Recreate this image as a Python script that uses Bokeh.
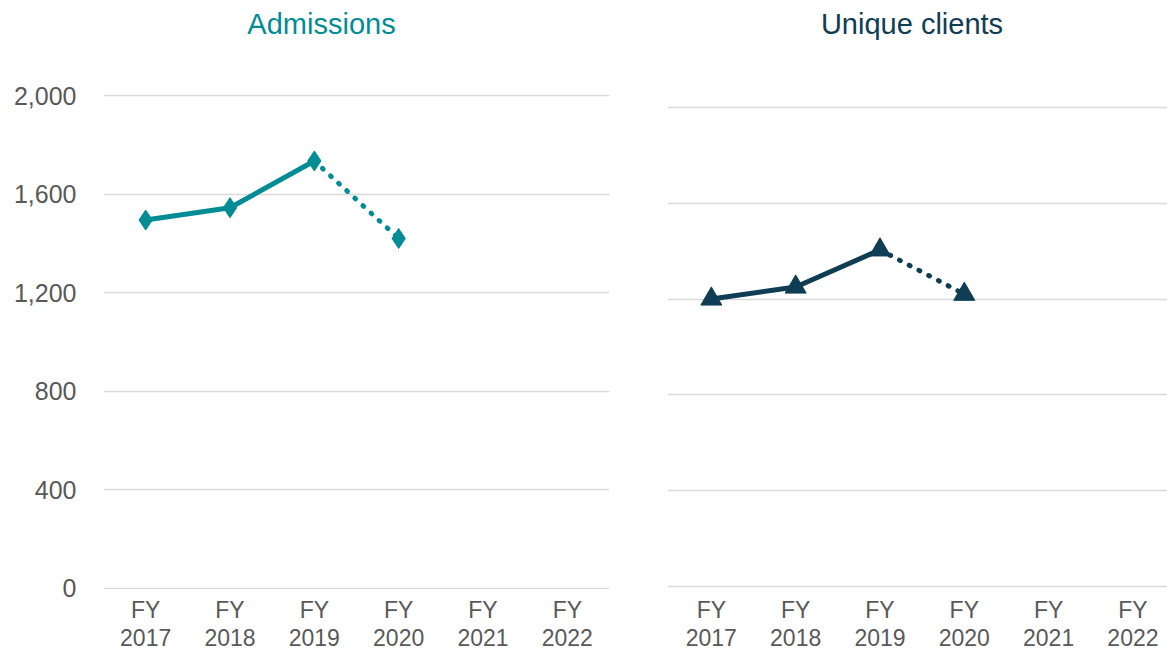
from bokeh.plotting import figure
from bokeh.layouts import row
from bokeh.models import FixedTicker, Range1d, NumeralTickFormatter, Label
from bokeh.embed import file_html
from bokeh.resources import INLINE

# ---- data ----
years = ["2017", "2018", "2019", "2020", "2021", "2022"]
tick_labels = ["FY\n" + y for y in years]
admissions = [1495, 1545, 1735, 1420]
unique_clients = [1200, 1250, 1405, 1220]
y_ticks = [0, 400, 800, 1200, 1600, 2000]

TEAL = "#008C95"
NAVY = "#0F3D53"
FONT = "Liberation Sans"
GREY = "#595959"
GRID = "#D9D9D9"

xs = list(range(len(years)))

H = 654
BOTTOM = 64
FRAME_H = H - BOTTOM  # frame runs to the top edge; title sits inside it


def base_fig(title, color, width, x_range, y_range, left, right, title_x):
    p = figure(width=width, height=H, output_backend="svg", toolbar_location=None,
               x_range=x_range, y_range=y_range,
               min_border_left=left, min_border_right=right,
               min_border_top=0, min_border_bottom=BOTTOM)
    p.outline_line_color = None
    p.background_fill_color = "white"
    p.border_fill_color = "white"
    # chart title
    p.add_layout(Label(x=title_x, y=FRAME_H - 24, x_units="screen", y_units="screen",
                       text=title, text_color=color, text_font=FONT, text_font_size="29px",
                       text_align="center", text_baseline="middle"))
    p.xgrid.visible = False
    p.ygrid.ticker = FixedTicker(ticks=y_ticks)
    p.ygrid.grid_line_color = GRID
    p.ygrid.grid_line_width = 1.5
    p.xaxis.ticker = FixedTicker(ticks=xs)
    p.xaxis.major_label_overrides = {i: lab for i, lab in enumerate(tick_labels)}
    p.xaxis.axis_line_color = None
    p.xaxis.major_tick_line_color = None
    p.xaxis.minor_tick_line_color = None
    p.xaxis.major_label_text_font = FONT
    p.xaxis.major_label_text_font_size = "23px"
    p.xaxis.major_label_text_color = GREY
    p.xaxis.major_label_text_line_height = 1.1
    p.xaxis.major_label_standoff = 1
    return p


# ---- left: Admissions ----
p1 = base_fig("Admissions", TEAL, 640, Range1d(-0.5, 5.5), Range1d(-6, 2387), 103, 31, 218)
p1.yaxis.ticker = FixedTicker(ticks=y_ticks)
p1.yaxis.formatter = NumeralTickFormatter(format="0,0")
p1.yaxis.axis_line_color = None
p1.yaxis.major_tick_line_color = None
p1.yaxis.minor_tick_line_color = None
p1.yaxis.major_label_text_font = FONT
p1.yaxis.major_label_text_font_size = "25px"
p1.yaxis.major_label_text_color = GREY
p1.yaxis.major_label_standoff = 21

n1 = len(admissions)
p1.line(xs[:n1 - 1], admissions[:n1 - 1], line_color=TEAL, line_width=5, line_join="round")
p1.line(xs[n1 - 2:n1], admissions[n1 - 2:n1], line_color=TEAL, line_width=5,
        line_dash="1 10", line_cap="round")
p1.scatter(xs[:n1], admissions, marker="diamond", size=20, fill_color=TEAL, line_color=TEAL)

# ---- right: Unique clients ----
p2 = base_fig("Unique clients", NAVY, 527, Range1d(-0.52, 5.41), Range1d(-12.5, 2446), 27, 0, 244.5)
p2.yaxis.visible = False

n2 = len(unique_clients)
p2.line(xs[:n2 - 1], unique_clients[:n2 - 1], line_color=NAVY, line_width=5, line_join="round")
p2.line(xs[n2 - 2:n2], unique_clients[n2 - 2:n2], line_color=NAVY, line_width=5,
        line_dash="1 10", line_cap="round")
p2.scatter(xs[:n2], unique_clients, marker="triangle", size=21, fill_color=NAVY, line_color=NAVY)

layout = row(p1, p2)
open("out.html", "w").write(file_html(layout, INLINE))
